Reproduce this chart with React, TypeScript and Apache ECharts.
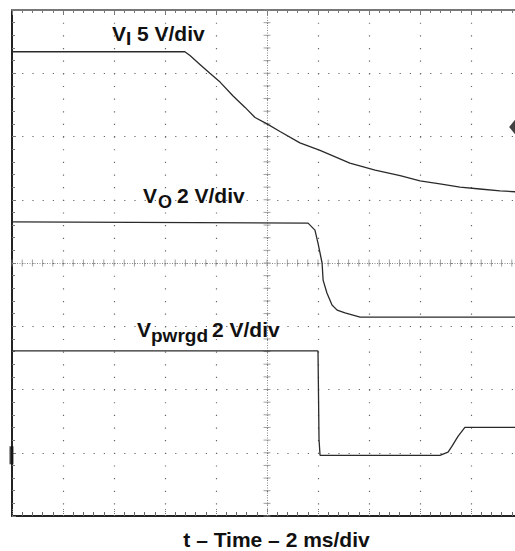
import React, { useEffect, useRef } from "react";
import * as echarts from "echarts";

// Time in ms (2 ms/div, 10 divisions)
const viTimeMs = [0, 6.78, 6.98, 7.37, 7.76, 8.16, 8.67, 9.14, 9.53, 10.0, 10.51, 11.29, 12.08, 13.25, 14.24, 15.22, 16.0, 16.78, 17.57, 18.35, 19.14, 20.0];
const viVolts = [11.7, 11.7, 11.4, 10.7, 10.0, 9.3, 8.2, 7.3, 6.5, 6.0, 5.4, 4.5, 3.9, 2.9, 2.35, 1.9, 1.5, 1.25, 1.0, 0.85, 0.7, 0.6];

const voTimeMs = [0, 11.61, 11.88, 12.0, 12.16, 12.2, 12.35, 12.55, 12.75, 13.06, 13.65, 20.0];
const voVolts = [3.3, 3.26, 3.04, 2.63, 2.0, 1.46, 1.05, 0.67, 0.51, 0.42, 0.29, 0.29];

const pgTimeMs = [0, 12.0, 12.04, 12.08, 16.78, 17.1, 17.25, 17.49, 17.76, 20.0];
const pgVolts = [3.3, 3.3, 0.5, 0.0, 0.0, 0.1, 0.28, 0.6, 0.88, 0.88];

// Channel settings: volts per division and ground position (in divisions)
const viVoltsPerDiv = 5;
const viGroundDiv = 5;
const voVoltsPerDiv = 2;
const voGroundDiv = 3;
const pgVoltsPerDiv = 2;
const pgGroundDiv = 0.96;

// Markers
const triggerMarker = [19.75, 6.15];
const groundMarker = [-0.02, 0.96];

const xMin = 0;
const xMax = 20;
const xInterval = 2;
const yMin = 0;
const yMax = 8;
const yInterval = 1;

const toDivs = (time: number[], volts: number[], vpd: number, gnd: number) =>
  time.map((t, i) => [t, gnd + volts[i] / vpd]);

const FONT = '"Liberation Sans", Arial, Helvetica, sans-serif';

export default function App() {
  const ref = useRef<HTMLDivElement>(null);
  useEffect(() => {
    if (!ref.current) return;
    const chart = echarts.init(ref.current, undefined, { renderer: "svg" });
    const traceStyle = { color: "#2a2a2a", width: 1.3 };
    const xCenterTicks: number[][] = [];
    for (let i = 0; i <= 50; i++) xCenterTicks.push([i * 0.4, 4]);
    const yCenterTicks: number[][] = [];
    for (let i = 0; i <= 40; i++) yCenterTicks.push([10, i * 0.2]);

    const textEl = (x: number, y: number, text: string, size: number, align = "left") => ({
      type: "text",
      x,
      y,
      z: 100,
      style: {
        text,
        fill: "#111",
        font: `bold ${size}px ${FONT}`,
        textAlign: align,
        textVerticalAlign: "middle",
      },
    });

    chart.setOption({
      animation: false,
      backgroundColor: "#fff",
      grid: { left: 12, top: 10, width: 510, height: 506, containLabel: false, outerBoundsMode: "none" },
      xAxis: [
        {
          type: "value",
          min: xMin,
          max: xMax,
          interval: xInterval,
          position: "bottom",
          axisLine: { show: true, lineStyle: { color: "#222", width: 2 } },
          axisTick: { show: true, inside: true, length: 8, lineStyle: { color: "#777", width: 1, type: [1, 1] } },
          minorTick: { show: true, splitNumber: 5, length: 4, lineStyle: { color: "#666", width: 1 } },
          axisLabel: { show: false },
          splitLine: { show: true, lineStyle: { color: "#666", width: 1.2, type: [1.2, 11.45] } },
        },
        {
          type: "value",
          min: xMin,
          max: xMax,
          interval: xInterval,
          position: "top",
          axisLine: { show: true, lineStyle: { color: "#777", width: 2 } },
          axisTick: { show: true, inside: true, length: 5, lineStyle: { color: "#777", width: 1 } },
          minorTick: { show: true, splitNumber: 5, length: 3, lineStyle: { color: "#777", width: 1 } },
          axisLabel: { show: false },
          splitLine: { show: false },
        },
      ],
      yAxis: [
        {
          type: "value",
          min: yMin,
          max: yMax,
          interval: yInterval,
          position: "left",
          axisLine: { show: true, lineStyle: { color: "#222", width: 2 } },
          axisTick: { show: true, inside: true, length: 4, lineStyle: { color: "#777", width: 1 } },
          minorTick: { show: true, splitNumber: 5, length: 3, lineStyle: { color: "#777", width: 1 } },
          axisLabel: { show: false },
          splitLine: { show: true, lineStyle: { color: "#666", width: 1.2, type: [1.2, 9.0] } },
        },
      ],
      series: [
        {
          type: "scatter",
          name: "centerX",
          data: xCenterTicks,
          symbol: "rect",
          symbolSize: [1, 7],
          itemStyle: { color: "#888" },
          silent: true,
          z: 2,
          markLine: {
            silent: true,
            symbol: "none",
            label: { show: false },
            lineStyle: { color: "#888", width: 1, type: [1, 1.5] },
            data: [{ xAxis: 10 }, { yAxis: 4 }],
          },
        },
        {
          type: "scatter",
          name: "centerY",
          data: yCenterTicks,
          symbol: "rect",
          symbolSize: [7, 1],
          itemStyle: { color: "#888" },
          silent: true,
          z: 2,
        },
        {
          type: "line",
          name: "VI",
          data: toDivs(viTimeMs, viVolts, viVoltsPerDiv, viGroundDiv),
          showSymbol: false,
          lineStyle: traceStyle,
          z: 5,
        },
        {
          type: "line",
          name: "VO",
          data: toDivs(voTimeMs, voVolts, voVoltsPerDiv, voGroundDiv),
          showSymbol: false,
          lineStyle: traceStyle,
          z: 5,
        },
        {
          type: "line",
          name: "Vpwrgd",
          data: toDivs(pgTimeMs, pgVolts, pgVoltsPerDiv, pgGroundDiv),
          showSymbol: false,
          lineStyle: traceStyle,
          z: 5,
        },
        {
          type: "scatter",
          name: "trigger",
          data: [triggerMarker],
          symbol: "diamond",
          symbolSize: [13, 16],
          itemStyle: { color: "#111" },
          clip: false,
          z: 6,
        },
        {
          type: "scatter",
          name: "ground",
          data: [groundMarker],
          symbol: "rect",
          symbolSize: [4, 18],
          itemStyle: { color: "#111" },
          clip: false,
          z: 6,
        },
      ],
      graphic: [
        textEl(112, 33.7, "V", 21),
        textEl(126, 38.4, "I", 19),
        textEl(137, 33.7, "5 V/div", 21),
        textEl(143, 195.7, "V", 21),
        textEl(158, 201.7, "O", 18),
        textEl(177, 195.7, "2 V/div", 21),
        textEl(137, 329.6, "V", 21),
        textEl(151, 335.4, "pwrgd", 19),
        textEl(212, 329.6, "2 V/div", 21),
        textEl(276.5, 539.6, "t \u2013 Time \u2013 2 ms/div", 21, "center"),
      ],
    });
    return () => chart.dispose();
  }, []);
  return (
    <div
      ref={ref}
      style={{ position: "absolute", left: 0, top: 0, width: 515, height: 551, background: "#fff" }}
    />
  );
}
